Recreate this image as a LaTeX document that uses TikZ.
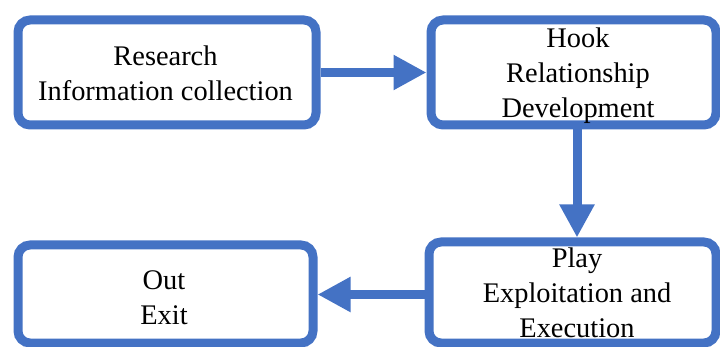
\documentclass[tikz,border=0pt]{standalone}
\usepackage{fontspec}
\setmainfont{Liberation Serif}
\newfontfamily\boxserif{Liberation Serif}
\usetikzlibrary{arrows.meta}
\definecolor{boxblue}{RGB}{68,114,196}
\tikzset{
  flowbox/.style={draw=boxblue, line width=9pt, rounded corners=12pt, rectangle, fill=white},
  flowtxt/.style={align=center, inner sep=0pt, text=black, font=\boxserif\fontsize{28.4}{35}\selectfont},
  flowarr/.style={draw=boxblue, line width=9pt, -{Triangle[length=33pt,width=33pt]}}
}
\begin{document}
\begin{tikzpicture}[x=1pt,y=-1pt]
\useasboundingbox (0,0) rectangle (720,347);
\node[flowbox, minimum width=298pt, minimum height=105pt] (b1) at (167,72.5) {};
\node[flowbox, minimum width=285pt, minimum height=105pt] (b2) at (573.5,72.5) {};
\node[flowbox, minimum width=295pt, minimum height=98pt] (b3) at (165.5,294) {};
\node[flowbox, minimum width=287pt, minimum height=101pt] (b4) at (572.5,292.5) {};
\node[flowtxt] (t1) at (165.5,73) {Research\\Information collection};
\node[flowtxt] (t2) at (578,75.4) {Hook\\Relationship\\Development};
\node[flowtxt] (t3) at (164,298) {Out\\Exit};
\node[flowtxt] (t4) at (577,293) {Play\\Exploitation and\\Execution};
\draw[flowarr] (b1.east) -- (b2.west);
\draw[flowarr] ([xshift=3.5pt]b2.south) -- ([xshift=3.5pt]b2.south |- b4.north);
\draw[flowarr] ([yshift=-2pt]b4.west) -- ([yshift=-2pt]b4.west -| b3.east);
\end{tikzpicture}
\end{document}
